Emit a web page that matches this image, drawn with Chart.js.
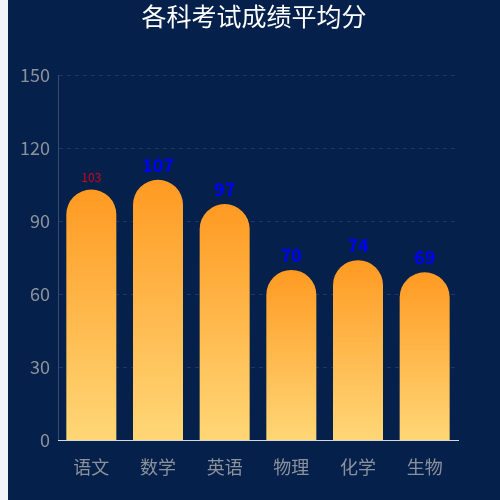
<!DOCTYPE html>
<html>
<head>
<meta charset="utf-8">
<script src="https://cdn.jsdelivr.net/npm/chart.js@4/dist/chart.umd.min.js"></script>
<style>
  html, body { margin: 0; padding: 0; background: #f2f3f8; }
  #box { position: absolute; left: 8px; top: 0; width: 492px; height: 500px; background: #05214b; }
</style>
</head>
<body>
<div id="box"><canvas id="grafico" width="492" height="500"></canvas></div>
<script>
// 科目 / 平均分
const subjects = ['语文', '数学', '英语', '物理', '化学', '生物'];
const scores = [103, 107, 97, 70, 74, 69];
const yTicks = [0, 30, 60, 90, 120, 150];

// 柱子渐变：顶部橙色，底部浅黄
function barGradient(ctx) {
    const chart = ctx.chart;
    if (!chart.chartArea || ctx.type !== 'data') return '#ffa52a';
    const y = chart.scales.y;
    const top = y.getPixelForValue(ctx.raw);
    const bottom = y.getPixelForValue(0);
    const g = chart.ctx.createLinearGradient(0, top, 0, bottom);
    g.addColorStop(0, '#ff9a22');
    g.addColorStop(1, '#ffd777');
    return g;
}

// 顶部数值标签
const valueLabels = {
    id: 'valueLabels',
    afterDatasetsDraw(chart) {
        const ctx = chart.ctx;
        const meta = chart.getDatasetMeta(0);
        ctx.save();
        ctx.textAlign = 'center';
        ctx.textBaseline = 'bottom';
        meta.data.forEach((bar, i) => {
            if (i === 0) {
                ctx.fillStyle = '#d0021b';
                ctx.font = '12px "Noto Sans CJK SC", sans-serif';
                ctx.fillText(scores[i], bar.x, bar.y - 6);
            } else {
                ctx.fillStyle = '#0000ff';
                ctx.font = 'bold 18px "Noto Sans CJK SC", sans-serif';
                ctx.fillText(scores[i], bar.x, bar.y - 6);
            }
        });
        ctx.restore();
    }
};

let grafico = document.getElementById('grafico').getContext('2d');
let chart = new Chart(grafico, {
    type: 'bar',
    data: {
        labels: subjects,
        datasets: [
            {
                label: '平均分',
                data: scores,
                backgroundColor: barGradient,
                borderWidth: 0,
                borderRadius: { topLeft: 25, topRight: 25, bottomLeft: 0, bottomRight: 0 },
                borderSkipped: false,
                barPercentage: 0.75,
                categoryPercentage: 1
            }
        ]
    },
    plugins: [valueLabels],
    options: {
        responsive: false,
        animation: false,
        devicePixelRatio: 1,
        layout: { padding: { left: 0, right: 0, top: 0, bottom: 6 } },
        plugins: {
            legend: { display: false },
            tooltip: { enabled: false },
            title: {
                display: true,
                text: '各科考试成绩平均分',
                color: '#ffffff',
                font: { size: 25, family: '"Noto Sans CJK SC", sans-serif', weight: 'normal' },
                padding: { top: 1, bottom: 44 }
            }
        },
        scales: {
            x: {
                grid: { display: false, drawTicks: false },
                border: { color: '#d8d8d8', width: 1 },
                ticks: {
                    color: '#8c929c',
                    padding: 16,
                    maxRotation: 0,
                    font: { size: 18, family: '"Noto Sans CJK SC", sans-serif' }
                }
            },
            y: {
                min: 0,
                max: 150,
                afterFit(scale) { scale.width = 50; },
                afterBuildTicks(scale) { scale.ticks = yTicks.map(v => ({ value: v })); },
                grid: {
                    color: (c) => c.tick && c.tick.value === 0 ? 'rgba(0,0,0,0)' : 'rgba(255,255,255,0.1)',
                    drawTicks: false
                },
                border: { color: 'rgba(255,255,255,0.2)', dash: [4, 4], display: true },
                ticks: {
                    color: '#8c929c',
                    padding: 8,
                    font: { size: 18, family: '"Noto Sans CJK SC", sans-serif' }
                }
            },
            // 右侧留白
            y2: {
                position: 'right',
                min: 0,
                max: 150,
                afterFit(scale) { scale.width = 42; },
                grid: { display: false, drawTicks: false },
                border: { display: false },
                ticks: { display: false }
            }
        }
    }
});
</script>
</body>
</html>
